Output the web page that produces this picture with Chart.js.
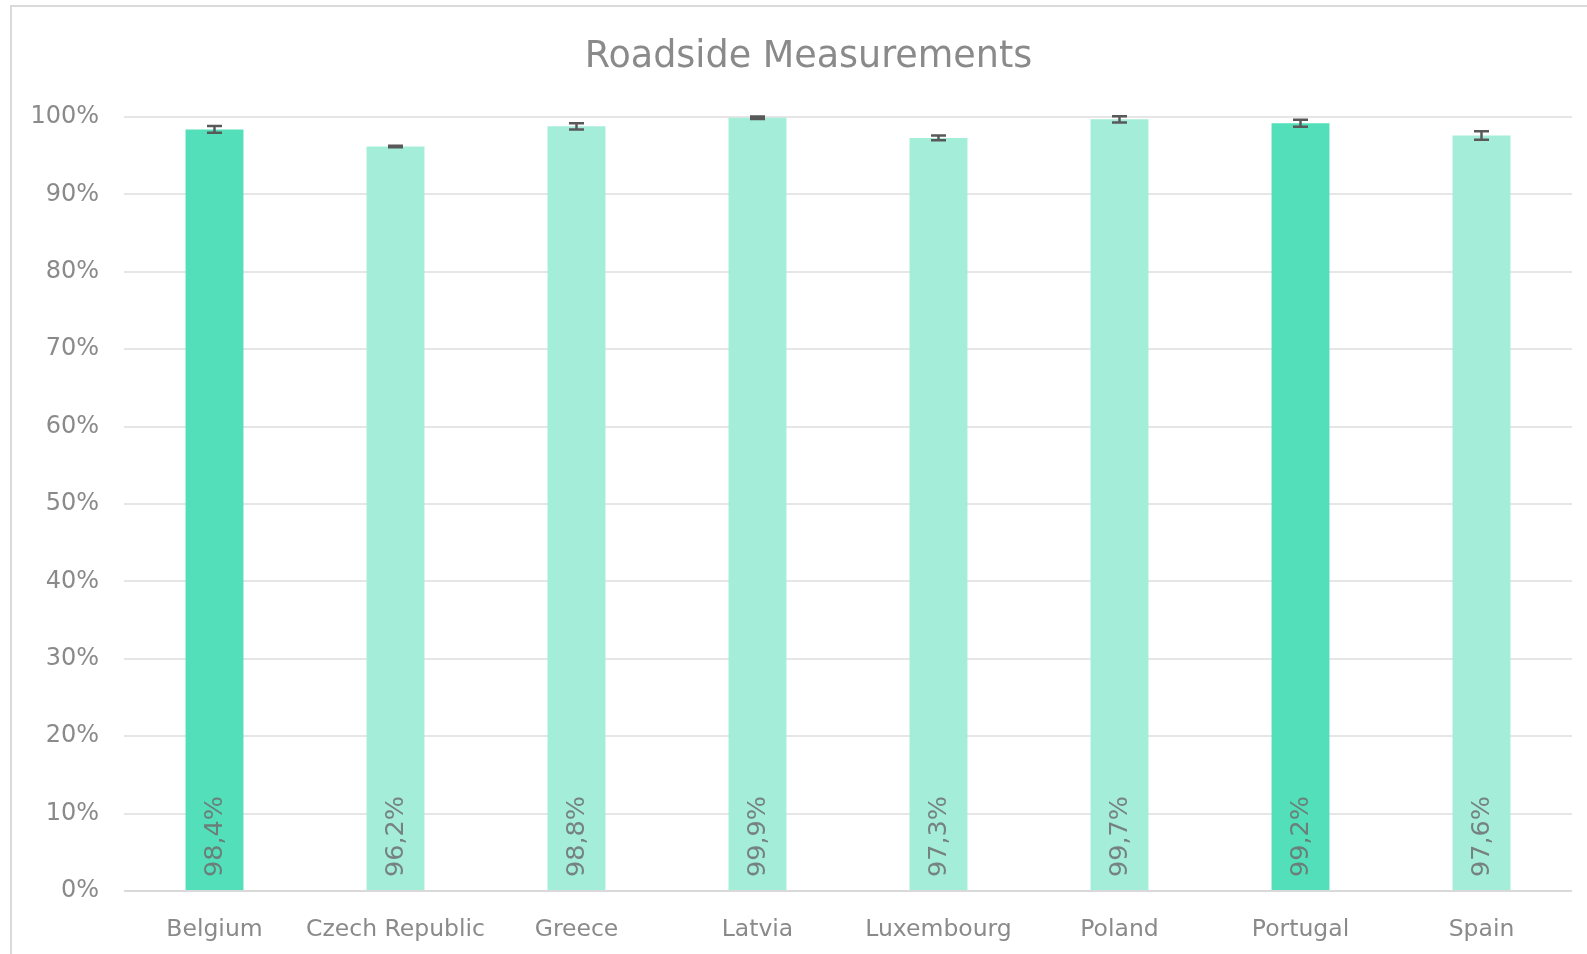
<!DOCTYPE html>
<html>
<head>
<meta charset="utf-8">
<title>Roadside Measurements</title>
<script src="https://cdn.jsdelivr.net/npm/chart.js@4.4.1/dist/chart.umd.min.js"></script>
<style>
  html, body { margin: 0; padding: 0; background: #fff; overflow: hidden; }
  #frame {
    position: absolute; left: 10px; top: 5px;
    width: 2000px; height: 2000px;
    border: 2px solid #dadada; box-sizing: border-box;
  }
  #wrap { position: absolute; left: 0; top: 0; width: 1587px; height: 954px; }
</style>
</head>
<body>
<div id="frame"></div>
<div id="wrap"><canvas id="chart"></canvas></div>
<script>
// data
const countries = ["Belgium", "Czech Republic", "Greece", "Latvia", "Luxembourg", "Poland", "Portugal", "Spain"];
const shares    = [98.4, 96.2, 98.8, 99.9, 97.3, 99.7, 99.2, 97.6];
const errors    = [0.45, 0.1, 0.4, 0.15, 0.3, 0.4, 0.45, 0.55];
const labels    = ["98,4%", "96,2%", "98,8%", "99,9%", "97,3%", "99,7%", "99,2%", "97,6%"];
const yTicks    = [0, 10, 20, 30, 40, 50, 60, 70, 80, 90, 100];
const highlight = ["Belgium", "Portugal"];
const chartTitle = "Roadside Measurements";

const DARK  = "#52dfb9";
const LIGHT = "#a3edd9";
const TEXT  = "#8a8a8a";
const FONT  = "'DejaVu Sans', Verdana, sans-serif";

// title, error bars and rotated value labels
// (title drawn here: the Excel title is centred on the whole frame, not the plot)
const extras = {
  id: "extras",
  afterDraw(chart) {
    const ctx = chart.ctx;
    ctx.save();
    ctx.font = "36.5px " + FONT;
    ctx.fillStyle = TEXT;
    ctx.textAlign = "center";
    ctx.textBaseline = "middle";
    ctx.fillText(chartTitle, (chart.chartArea.left - 79 + chart.chartArea.right) / 2, 58);
    ctx.restore();
  },
  afterDatasetsDraw(chart) {
    const ctx = chart.ctx;
    const y = chart.scales.y;
    const bars = chart.getDatasetMeta(0).data;

    bars.forEach((bar, i) => {
      // value label, bottom of bar, reading upward
      ctx.save();
      ctx.translate(bar.x + 1, y.getPixelForValue(0) - 14);
      ctx.rotate(-Math.PI / 2);
      ctx.font = "25.5px " + FONT;
      ctx.fillStyle = "rgba(110,110,110,0.85)";
      ctx.textAlign = "left";
      ctx.textBaseline = "middle";
      ctx.fillText(labels[i], 0, 0);
      ctx.restore();

      // error bar
      const top = y.getPixelForValue(shares[i] + errors[i]);
      const bot = y.getPixelForValue(shares[i] - errors[i]);
      ctx.save();
      ctx.strokeStyle = "#595959";
      ctx.lineWidth = 2.5;
      ctx.beginPath();
      ctx.moveTo(bar.x, top); ctx.lineTo(bar.x, bot);
      ctx.moveTo(bar.x - 7.5, top); ctx.lineTo(bar.x + 7.5, top);
      ctx.moveTo(bar.x - 7.5, bot); ctx.lineTo(bar.x + 7.5, bot);
      ctx.stroke();
      ctx.restore();
    });
  }
};

new Chart(document.getElementById("chart"), {
  type: "bar",
  data: {
    labels: countries,
    datasets: [{
      data: shares,
      backgroundColor: countries.map(c => highlight.includes(c) ? DARK : LIGHT),
      borderWidth: 0,
      categoryPercentage: 1,
      barPercentage: 0.32
    }]
  },
  options: {
    responsive: true,
    maintainAspectRatio: false,
    animation: false,
    layout: { padding: { left: 10, right: 15, top: 117, bottom: 0 } },
    plugins: {
      legend: { display: false },
      tooltip: { enabled: false },
      title: { display: false }
    },
    scales: {
      x: {
        grid: { display: false },
        border: { display: false },
        ticks: {
          color: TEXT,
          font: { family: FONT, size: 23.5 },
          padding: 17,
          maxRotation: 0,
          autoSkip: false
        },
        afterFit: s => { s.height = 63; }
      },
      y: {
        min: 0,
        max: 100,
        afterBuildTicks: s => { s.ticks = yTicks.map(v => ({ value: v })); },
        grid: {
          drawTicks: false,
          lineWidth: 2,
          color: c => c.index === 0 ? "#d9d9d9" : "#e6e6e6"
        },
        border: { display: false },
        ticks: {
          color: TEXT,
          padding: 25,
          font: { family: FONT, size: 24 },
          callback: v => v + "%"
        },
        afterFit: s => { s.width = 114; }
      }
    }
  },
  plugins: [extras]
});
</script>
</body>
</html>
